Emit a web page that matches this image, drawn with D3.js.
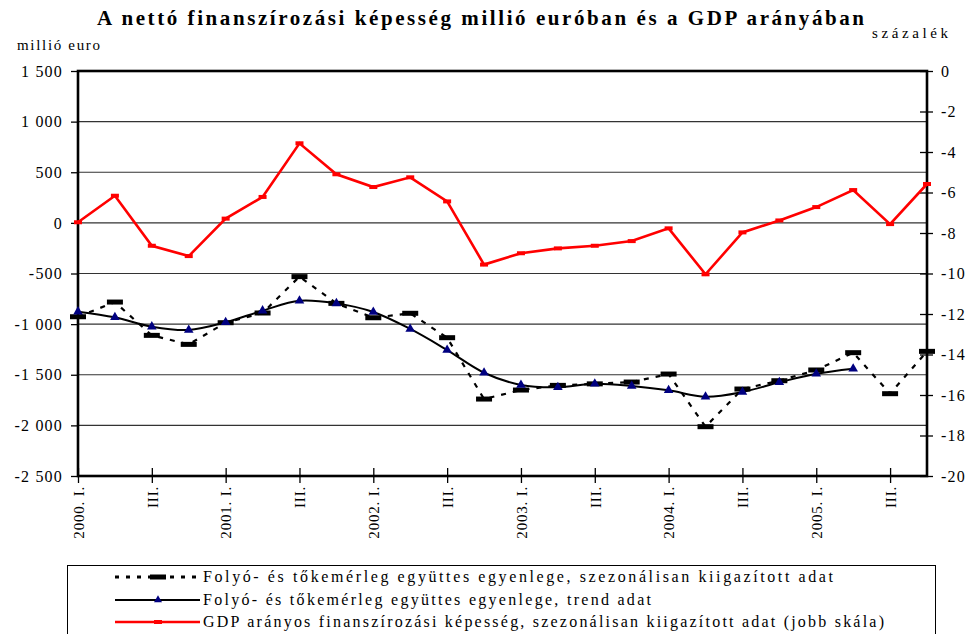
<!DOCTYPE html>
<html>
<head>
<meta charset="utf-8">
<script src="https://cdn.jsdelivr.net/npm/d3@7"></script>
<style>
  body { margin: 0; background: #fff; }
</style>
</head>
<body>
<div id="chart"></div>
<script>
var svgWidth = 968;
var svgHeight = 634;
var serif = "'Liberation Serif', 'Times New Roman', serif";

// quarters 2000 I. - 2005 IV.
var quarters = [];
var years = [2000, 2001, 2002, 2003, 2004, 2005];
var romans = ["I.", "II.", "III.", "IV."];
years.forEach(function(y) {
  romans.forEach(function(r) { quarters.push(y + ". " + r); });
});

// tick labels on x axis (every second quarter)
var xTickLabels = quarters.map(function(q, i) {
  if (i % 4 === 0) return q;
  if (i % 4 === 2) return "III.";
  return "";
});

// million euro, seasonally adjusted
var seasonal = [-927, -782, -1111, -1200, -986, -890, -531, -795,
                -937, -893, -1134, -1740, -1651, -1605, -1590, -1572,
                -1493, -2013, -1641, -1559, -1453, -1282, -1687, -1269];

// million euro, trend (ends in 2005 II.)
var trend = [-877, -933, -1025, -1058, -982, -867, -769, -795,
             -880, -1048, -1256, -1480, -1601, -1624, -1589, -1611,
             -1654, -1717, -1671, -1575, -1490, -1440];

// % of GDP, right scale
var gdpShare = [-7.47, -6.16, -8.63, -9.14, -7.29, -6.22, -3.57, -5.10,
                -5.73, -5.25, -6.44, -9.56, -9.00, -8.76, -8.63, -8.40,
                -7.77, -10.04, -7.97, -7.38, -6.72, -5.88, -7.56, -5.58];

var leftTicks = [1500, 1000, 500, 0, -500, -1000, -1500, -2000, -2500];
var rightTicks = [0, -2, -4, -6, -8, -10, -12, -14, -16, -18, -20];

var legendLabels = [
  "Folyó- és tőkemérleg együttes egyenlege, szezonálisan kiigazított adat",
  "Folyó- és tőkemérleg együttes egyenlege, trend adat",
  "GDP arányos finanszírozási képesség, szezonálisan kiigazított adat (jobb skála)"
];

var plot = { left: 78, right: 927, top: 71, bottom: 476 };

var svg = d3.select("#chart")
  .append("svg")
  .attr("width", svgWidth)
  .attr("height", svgHeight)
  .style("font-family", serif);

var x = d3.scalePoint()
  .domain(d3.range(quarters.length))
  .range([plot.left, plot.right]);

var yLeft = d3.scaleLinear()
  .domain([-2500, 1500])
  .range([plot.bottom, plot.top]);

var yRight = d3.scaleLinear()
  .domain([-20, 0])
  .range([plot.bottom, plot.top]);

// title
svg.append("text")
  .attr("x", 97)
  .attr("y", 25)
  .attr("textLength", 767)
  .attr("lengthAdjust", "spacing")
  .style("font-family", serif)
  .style("font-size", "21px")
  .style("font-weight", "bold")
  .text("A nettó finanszírozási képesség millió euróban és a GDP arányában");

svg.append("text")
  .attr("x", 17)
  .attr("y", 50)
  .attr("textLength", 83)
  .attr("lengthAdjust", "spacing")
  .style("font-family", serif)
  .style("font-size", "15px")
  .text("millió euro");

svg.append("text")
  .attr("x", 872)
  .attr("y", 38)
  .attr("textLength", 76)
  .attr("lengthAdjust", "spacing")
  .style("font-family", serif)
  .style("font-size", "15px")
  .text("százalék");

// gridlines
svg.append("g")
  .selectAll("line")
  .data(leftTicks.slice(1, -1))
  .enter()
  .append("line")
  .attr("x1", plot.left)
  .attr("x2", plot.right)
  .attr("y1", d => yLeft(d))
  .attr("y2", d => yLeft(d))
  .attr("stroke", "#333")
  .attr("stroke-width", 1.2);

var fmtNum = d => d3.format(",")(d).replace(/,/g, " ").replace("−", "-");

// left axis
var leftAxis = d3.axisLeft(yLeft).tickValues(leftTicks).tickSize(7).tickPadding(8)
  .tickFormat(fmtNum);
var gl = svg.append("g")
  .attr("transform", `translate(${plot.left},0)`)
  .call(leftAxis);
gl.select(".domain").remove();
gl.selectAll(".tick line").attr("stroke-width", 1.3);
gl.selectAll(".tick text")
  .style("font-size", "16px")
  .style("font-family", serif)
  .style("letter-spacing", "1.2px");

// right axis (crossing ticks)
var rightAxis = d3.axisRight(yRight).tickValues(rightTicks).tickSize(6).tickPadding(8)
  .tickFormat(fmtNum);
var gr = svg.append("g")
  .attr("transform", `translate(${plot.right},0)`)
  .call(rightAxis);
gr.select(".domain").remove();
gr.selectAll(".tick line").attr("x1", -7).attr("stroke-width", 1.3);
gr.selectAll(".tick text")
  .style("font-size", "16px")
  .style("font-family", serif)
  .style("letter-spacing", "1.2px");

// bottom axis (crossing ticks)
var bottomAxis = d3.axisBottom(x)
  .tickValues(d3.range(0, quarters.length, 2))
  .tickSize(7)
  .tickFormat(i => xTickLabels[i]);
var gb = svg.append("g")
  .attr("transform", `translate(0,${plot.bottom})`)
  .call(bottomAxis);
gb.select(".domain").remove();
gb.selectAll(".tick line").attr("y1", -8).attr("stroke-width", 1.3);
gb.selectAll(".tick text")
  .style("font-size", "15px")
  .style("font-family", serif)
  .style("letter-spacing", "0.8px")
  .attr("text-anchor", "end")
  .attr("transform", "rotate(-90)")
  .attr("x", -10)
  .attr("y", 0)
  .attr("dy", "0.35em");

// frame
svg.append("rect")
  .attr("x", plot.left)
  .attr("y", plot.top)
  .attr("width", plot.right - plot.left)
  .attr("height", plot.bottom - plot.top)
  .attr("fill", "none")
  .attr("stroke", "#000")
  .attr("stroke-width", 2.6);

// lines
var lineLeft = d3.line()
  .x((d, i) => x(i))
  .y(d => yLeft(d));

var trendLine = d3.line()
  .x((d, i) => x(i))
  .y(d => yLeft(d))
  .curve(d3.curveCatmullRom);

var lineRight = d3.line()
  .x((d, i) => x(i))
  .y(d => yRight(d));

svg.append("path")
  .datum(gdpShare)
  .attr("d", lineRight)
  .attr("fill", "none")
  .attr("stroke", "#ff0000")
  .attr("stroke-width", 2.6);

svg.append("g")
  .selectAll("rect")
  .data(gdpShare)
  .enter()
  .append("rect")
  .attr("x", (d, i) => x(i) - 4)
  .attr("y", d => yRight(d) - 2)
  .attr("width", 8)
  .attr("height", 4)
  .attr("fill", "#ff0000");

svg.append("path")
  .datum(seasonal)
  .attr("d", lineLeft)
  .attr("fill", "none")
  .attr("stroke", "#000")
  .attr("stroke-width", 2.2)
  .attr("stroke-dasharray", "5,7");

svg.append("path")
  .datum(trend)
  .attr("d", trendLine)
  .attr("fill", "none")
  .attr("stroke", "#000")
  .attr("stroke-width", 2);

svg.append("g")
  .selectAll("rect")
  .data(seasonal)
  .enter()
  .append("rect")
  .attr("x", (d, i) => x(i) - 8)
  .attr("y", d => yLeft(d) - 2.5)
  .attr("width", 16)
  .attr("height", 5)
  .attr("fill", "#000");

var tri = d3.symbol().type(d3.symbolTriangle).size(40);
svg.append("g")
  .selectAll("path")
  .data(trend)
  .enter()
  .append("path")
  .attr("d", tri)
  .attr("transform", (d, i) => `translate(${x(i)},${yLeft(d)})`)
  .attr("fill", "#000080");

// legend
var legend = svg.append("g");
legend.append("rect")
  .attr("x", 67.5)
  .attr("y", 565.5)
  .attr("width", 868)
  .attr("height", 80)
  .attr("fill", "#fff")
  .attr("stroke", "#000")
  .attr("stroke-width", 1);

var legendWidths = [630, 448, 681];
var rowY = [577, 600, 622];

// row 1: dashed with bar marker
legend.append("line")
  .attr("x1", 115).attr("x2", 200)
  .attr("y1", rowY[0]).attr("y2", rowY[0])
  .attr("stroke", "#000").attr("stroke-width", 3)
  .attr("stroke-dasharray", "4,7");
legend.append("rect")
  .attr("x", 150).attr("y", rowY[0] - 2.5)
  .attr("width", 16).attr("height", 5)
  .attr("fill", "#000");

// row 2: solid with triangle
legend.append("line")
  .attr("x1", 115).attr("x2", 200)
  .attr("y1", rowY[1]).attr("y2", rowY[1])
  .attr("stroke", "#000").attr("stroke-width", 2);
legend.append("path")
  .attr("d", d3.symbol().type(d3.symbolTriangle).size(28))
  .attr("transform", `translate(158,${rowY[1]})`)
  .attr("fill", "#000080");

// row 3: red
legend.append("line")
  .attr("x1", 115).attr("x2", 200)
  .attr("y1", rowY[2]).attr("y2", rowY[2])
  .attr("stroke", "#ff0000").attr("stroke-width", 2.6);
legend.append("rect")
  .attr("x", 154).attr("y", rowY[2] - 2)
  .attr("width", 8).attr("height", 4)
  .attr("fill", "#ff0000");

legend.selectAll("text.lab")
  .data(legendLabels)
  .enter()
  .append("text")
  .attr("class", "lab")
  .attr("x", 203)
  .attr("y", (d, i) => rowY[i] + 5)
  .attr("textLength", (d, i) => legendWidths[i])
  .attr("lengthAdjust", "spacing")
  .style("font-family", serif)
  .style("font-size", "16px")
  .text(d => d);
</script>
</body>
</html>
